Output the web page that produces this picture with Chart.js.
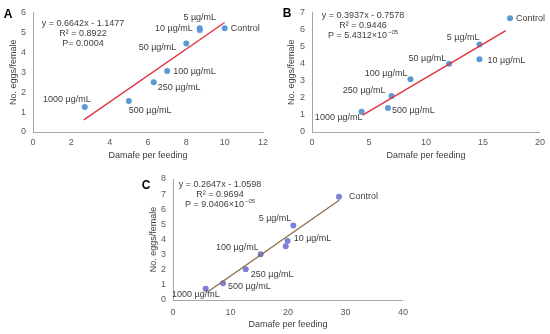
<!DOCTYPE html>
<html><head><meta charset="utf-8">
<script src="https://cdn.jsdelivr.net/npm/chart.js@4"></script>
<style>
html,body{margin:0;padding:0;background:#fff;}
body{width:550px;height:334px;position:relative;overflow:hidden;}
canvas{position:absolute;display:block;}
</style></head><body>
<canvas id="cA" width="275" height="165" style="left:0;top:0"></canvas>
<canvas id="cB" width="275" height="165" style="left:275px;top:0"></canvas>
<canvas id="cC" width="275" height="169" style="left:140px;top:165px"></canvas>
<script>
// ---- data ----
const concLabels = ["Control","5 µg/mL","10 µg/mL","50 µg/mL","100 µg/mL","250 µg/mL","500 µg/mL","1000 µg/mL"];
const feedingA = [10.0, 8.7, 8.7, 8.0, 7.0, 6.3, 5.0, 2.7];
const eggsA    = [5.2, 5.2, 5.12, 4.44, 3.06, 2.5, 1.55, 1.26];
const trendXA = [2.65, 10.0];
const trendYA = [0.61, 5.49];
const eqA = ["y = 0.6642x - 1.1477", "R² = 0.8922", "P= 0.0004"];

const feedingB = [17.37, 14.69, 14.69, 12.03, 8.64, 6.98, 6.66, 4.35];
const eggsB    = [6.66, 5.12, 4.26, 3.99, 3.09, 2.11, 1.40, 1.19];
const trendXB = [4.44, 17.0];
const trendYB = [0.99, 5.93];
const eqB = ["y = 0.3937x - 0.7578", "R² = 0.9446", "P = 5.4312×10", "−05"];

const feedingC = [28.87, 20.93, 19.94, 19.6, 15.25, 12.64, 8.70, 5.68];
const eggsC    = [6.83, 4.93, 3.90, 3.55, 3.02, 2.03, 1.10, 0.75];
const showC    = [true, true, true, false, true, true, true, true];
const trendXC = [6.0, 28.9];
const trendYC = [0.53, 6.59];
const eqC = ["y = 0.2647x - 1.0598", "R² = 0.9694", "P = 9.0406×10", "−05"];

const xTitle = "Damafe per feeding";
const yTitle = "No. eggs/female";

// ---- styling / placement ----
const FONT = "'Liberation Sans', Arial, sans-serif";
const TXT = "#404040";
const TICK = "#595959";
const AXIS = "#a6a6a6";

function pts(xs, ys){ return xs.map((x,i)=>({x:x, y:ys[i]})); }

const textPlugin = {
  id: 'txt',
  afterDatasetsDraw(chart, args, o) {
    const ctx = chart.ctx;
    ctx.save();
    // point labels
    const meta = chart.getDatasetMeta(1);
    ctx.font = "9px " + FONT;
    ctx.fillStyle = TXT;
    ctx.textBaseline = 'middle';
    meta.data.forEach((p, i) => {
      const off = o.offsets[i];
      if (!off || (o.show && !o.show[i])) return;
      ctx.textAlign = off[2];
      ctx.fillText(o.labels[i], p.x + off[0], p.y + off[1]);
    });
    // equation block
    ctx.textAlign = 'center';
    const eq = o.eq;
    const cx = o.eqPos[0];
    ctx.fillText(eq[0], cx, o.eqPos[1]);
    ctx.fillText(eq[1], cx, o.eqPos[1] + o.eqStep);
    if (eq.length > 3) {
      const w1 = ctx.measureText(eq[2]).width;
      ctx.font = "6px " + FONT;
      const w2 = ctx.measureText(eq[3]).width;
      const start = cx - (w1 + w2 + 1) / 2;
      ctx.textAlign = 'left';
      ctx.fillText(eq[3], start + w1 + 1, o.eqPos[1] + 2 * o.eqStep - 3);
      ctx.font = "9px " + FONT;
      ctx.fillText(eq[2], start, o.eqPos[1] + 2 * o.eqStep);
    } else {
      ctx.fillText(eq[2], cx, o.eqPos[1] + 2 * o.eqStep);
    }
    // panel letter
    ctx.font = "bold 12px " + FONT;
    ctx.fillStyle = "#000";
    ctx.textAlign = 'center';
    ctx.fillText(o.letter, o.letterPos[0], o.letterPos[1]);
    ctx.restore();
  }
};

function makePanel(id, cfg) {
  return new Chart(document.getElementById(id), {
    type: 'scatter',
    data: {
      datasets: [
        { type: 'line', data: pts(cfg.tx, cfg.ty), borderColor: cfg.lineColor, borderWidth: 1.3,
          pointRadius: 0, fill: false, tension: 0 },
        { data: pts(cfg.xs, cfg.ys), backgroundColor: cfg.ptColor, borderColor: cfg.ptColor,
          pointRadius: 3, borderWidth: 0 }
      ]
    },
    options: {
      responsive: false, animation: false,
      layout: { padding: { top: cfg.padTop, right: cfg.padRight, left: 0, bottom: 0 } },
      plugins: {
        legend: { display: false }, tooltip: { enabled: false },
        txt: { labels: concLabels, offsets: cfg.offsets, show: cfg.show, eq: cfg.eq, eqPos: cfg.eqPos,
               eqStep: 9.8, letter: cfg.letter, letterPos: cfg.letterPos }
      },
      scales: {
        x: { type: 'linear', min: 0, max: cfg.xMax,
             ticks: { stepSize: cfg.xStep, color: TICK, font: { family: FONT, size: 9 }, padding: cfg.xTickPad, maxRotation: 0 },
             grid: { display: false, drawTicks: false },
             border: { display: true, color: AXIS, width: 1 },
             title: { display: true, text: xTitle, color: TXT, font: { family: FONT, size: 9 }, padding: { top: 0, bottom: 4 } },
             afterFit(s) { s.height = cfg.xH; } },
        y: { type: 'linear', min: 0, max: cfg.yMax,
             ticks: { stepSize: 1, color: TICK, font: { family: FONT, size: 9 }, padding: 7 },
             grid: { display: false, drawTicks: false },
             border: { display: true, color: AXIS, width: 1 },
             title: { display: true, text: yTitle, color: TXT, font: { family: FONT, size: 9 }, padding: { top: cfg.yTitlePad, bottom: 0 } },
             afterFit(s) { s.width = cfg.yW; } }
      }
    },
    plugins: [textPlugin]
  });
}

makePanel('cA', {
  xs: feedingA, ys: eggsA, tx: trendXA, ty: trendYA, eq: eqA,
  xMax: 12, xStep: 2, yMax: 6, padTop: 10, padRight: 12, yW: 33, xH: 33, xTickPad: 5, yTitlePad: 8,
  ptColor: "#5b9bd5", lineColor: "#e0303c", letter: "A", letterPos: [8, 15], eqPos: [83, 24],
  offsets: [[6,0,'left'],[0,-11,'center'],[-7,-1,'right'],[-10,4,'right'],[6,1,'left'],[4,5,'left'],[0,9,'left'],[6,-7,'right']]
});
makePanel('cB', {
  xs: feedingB, ys: eggsB, tx: trendXB, ty: trendYB, eq: eqB,
  xMax: 20, xStep: 5, yMax: 7, padTop: 10, padRight: 10, yW: 37, xH: 33, xTickPad: 5, yTitlePad: 11,
  ptColor: "#5b9bd5", lineColor: "#e0303c", letter: "B", letterPos: [12, 14], eqPos: [88, 16],
  offsets: [[6,0,'left'],[0,-7,'right'],[8,1,'left'],[-3,-5,'right'],[-3,-6,'right'],[-6,-5,'right'],[4,2,'left'],[1,6,'right']]
});
makePanel('cC', {
  xs: feedingC, ys: eggsC, tx: trendXC, ty: trendYC, eq: eqC, show: showC,
  xMax: 40, xStep: 10, yMax: 8, padTop: 14, padRight: 12, yW: 33, xH: 34, xTickPad: 7, yTitlePad: 8,
  ptColor: "#7f7fd5", lineColor: "#8c6d46", letter: "C", letterPos: [6, 21], eqPos: [80, 20],
  offsets: [[10,0,'left'],[-2,-7,'right'],[6,-2,'left'],null,[-2,-7,'right'],[5,5,'left'],[5,3,'left'],[14,6,'right']]
});
</script>
</body></html>
